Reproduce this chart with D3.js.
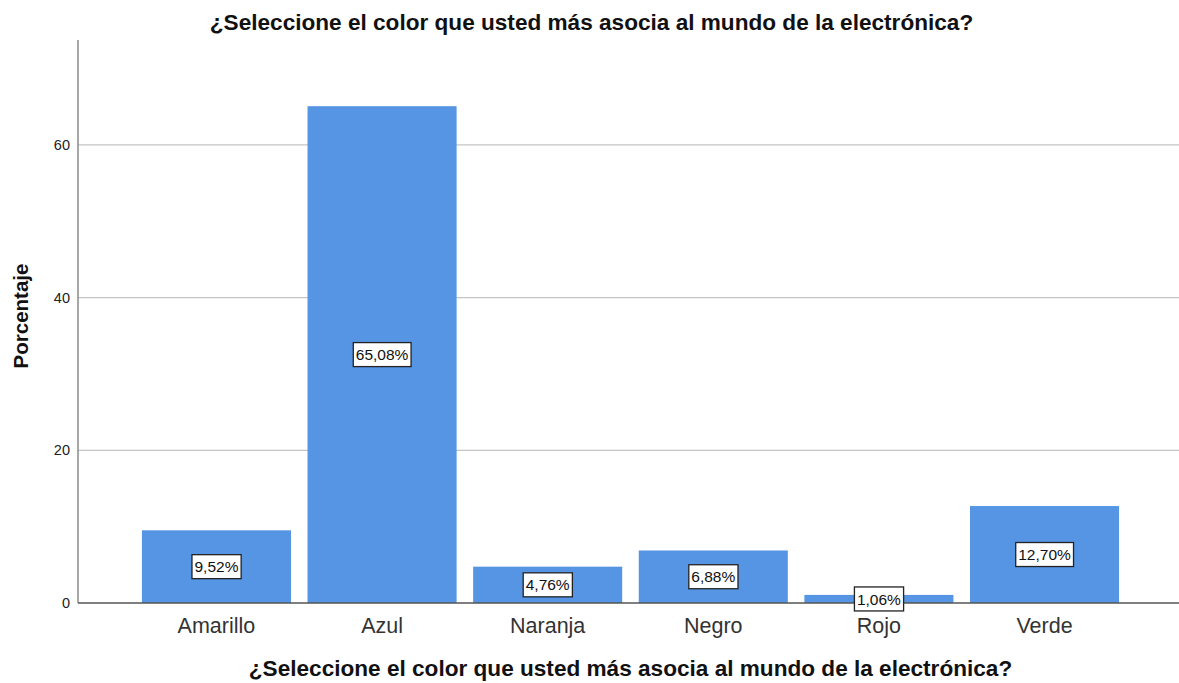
<!DOCTYPE html>
<html>
<head>
<meta charset="utf-8">
<script src="https://cdn.jsdelivr.net/npm/d3@7"></script>
<style>
  html, body { margin: 0; padding: 0; background: #fff; }
  svg { display: block; font-family: "Liberation Sans", Arial, sans-serif; }
</style>
</head>
<body>
<svg id="chart" width="1179" height="683"></svg>
<script>
// Color most associated with electronics (percentage of respondents)
const categories = ["Amarillo", "Azul", "Naranja", "Negro", "Rojo", "Verde"];
const percentages = [9.52, 65.08, 4.76, 6.88, 1.06, 12.70];
const yTicks = [0, 20, 40, 60];
const yMax = 73.75;

const chartTitle = "¿Seleccione el color que usted más asocia al mundo de la electrónica?";
const xTitle = "¿Seleccione el color que usted más asocia al mundo de la electrónica?";
const yTitle = "Porcentaje";

const W = 1179, H = 683;
const plot = { left: 78, right: 1179, top: 40, bottom: 603 };

const svg = d3.select("#chart");

const x = d3.scaleBand()
  .domain(categories)
  .range([plot.left, plot.right])
  .paddingInner(0.1)
  .paddingOuter(0.374)
  .align(0.516);

const y = d3.scaleLinear()
  .domain([0, yMax])
  .range([plot.bottom, plot.top]);

// Gridlines
svg.append("g")
  .selectAll("line")
  .data(yTicks.filter(d => d > 0))
  .join("line")
  .attr("x1", plot.left).attr("x2", plot.right)
  .attr("y1", d => y(d)).attr("y2", d => y(d))
  .attr("stroke", "#c4c4c4")
  .attr("stroke-width", 1.2);

// Bars
const data = categories.map((c, i) => ({ cat: c, val: percentages[i] }));
svg.append("g")
  .selectAll("rect")
  .data(data)
  .join("rect")
  .attr("x", d => x(d.cat))
  .attr("width", x.bandwidth())
  .attr("y", d => y(d.val))
  .attr("height", d => y(0) - y(d.val))
  .attr("fill", "#5595e3");

// Y axis
const yAxis = svg.append("g")
  .attr("transform", `translate(${plot.left},0)`)
  .call(d3.axisLeft(y).tickValues(yTicks).tickSize(0).tickPadding(8).tickFormat(d3.format("d")));
yAxis.select(".domain").remove();
yAxis.selectAll("text")
  .attr("font-size", 14.5)
  .attr("fill", "#222")
  .attr("font-family", "'Liberation Sans', Arial, sans-serif");
svg.append("line")
  .attr("x1", plot.left).attr("x2", plot.left)
  .attr("y1", plot.top).attr("y2", plot.bottom)
  .attr("stroke", "#8a8a8a").attr("stroke-width", 1.5);

// X axis
const xAxis = svg.append("g")
  .attr("transform", `translate(0,${plot.bottom})`)
  .call(d3.axisBottom(x).tickSize(0).tickPadding(15));
xAxis.select(".domain").remove();
xAxis.selectAll("text")
  .attr("font-size", 21.5)
  .attr("fill", "#333")
  .attr("font-family", "'Liberation Sans', Arial, sans-serif");
svg.append("line")
  .attr("x1", plot.left).attr("x2", plot.right)
  .attr("y1", y(0)).attr("y2", y(0))
  .attr("stroke", "#555").attr("stroke-width", 1.3);

// Value labels in boxes at bar mid-height
const fmt = v => v.toFixed(2).replace(".", ",") + "%";
const labels = svg.append("g")
  .selectAll("g")
  .data(data)
  .join("g")
  .attr("transform", d => `translate(${x(d.cat) + x.bandwidth() / 2},${y(d.val / 2)})`);
labels.append("text")
  .attr("text-anchor", "middle")
  .attr("dy", "0.36em")
  .attr("font-size", 15.5)
  .attr("fill", "#111")
  .text(d => fmt(d.val));
labels.each(function () {
  const g = d3.select(this);
  const bb = g.select("text").node().getBBox();
  g.insert("rect", "text")
    .attr("x", bb.x - 2.5)
    .attr("y", -12)
    .attr("width", bb.width + 5)
    .attr("height", 24)
    .attr("fill", "#fff")
    .attr("stroke", "#222")
    .attr("stroke-width", 1.3);
});

// Titles
svg.append("text")
  .attr("x", W / 2 + 2).attr("y", 22)
  .attr("dy", "0.35em")
  .attr("text-anchor", "middle")
  .attr("font-size", 22.6)
  .attr("font-weight", "bold")
  .attr("fill", "#111")
  .text(chartTitle);

svg.append("text")
  .attr("x", (plot.left + plot.right) / 2 + 2).attr("y", 668)
  .attr("dy", "0.35em")
  .attr("text-anchor", "middle")
  .attr("font-size", 22.6)
  .attr("font-weight", "bold")
  .attr("fill", "#111")
  .text(xTitle);

svg.append("text")
  .attr("transform", `translate(21,316) rotate(-90)`)
  .attr("dy", "0.35em")
  .attr("text-anchor", "middle")
  .attr("font-size", 20.5)
  .attr("font-weight", "bold")
  .attr("fill", "#111")
  .text(yTitle);
</script>
</body>
</html>
